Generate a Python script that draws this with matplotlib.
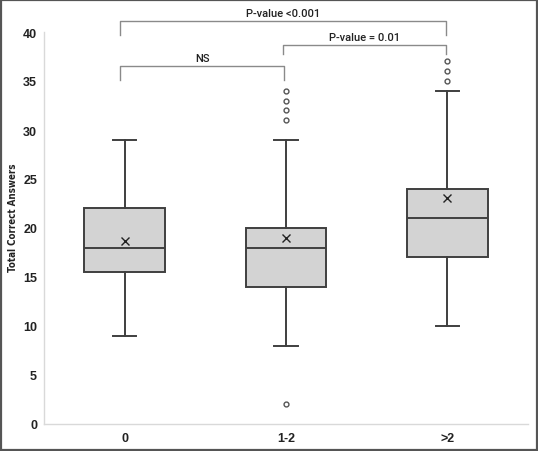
import matplotlib
matplotlib.use("Agg")
import matplotlib.pyplot as plt
from matplotlib.patches import Rectangle

# ---- data ----
categories = ["0", "1-2", ">2"]
whislo = [9, 8, 10]
q1 = [15.5, 14, 17]
med = [18, 18, 21]
q3 = [22, 20, 24]
whishi = [29, 29, 34]
means = [18.7, 19.0, 23.1]
fliers = [[], [2, 31, 32, 33, 34], [35, 36, 37]]
yticks = [0, 5, 10, 15, 20, 25, 30, 35, 40]
ylabel = "Total Correct Answers"
comparisons = [(1, 3, 41.1, 39.7, "P-value <0.001"),
               (2, 3, 38.7, 37.8, "P-value = 0.01"),
               (1, 2, 36.5, 35.1, "NS")]

plt.rcParams['font.family'] = ['Liberation Sans', 'DejaVu Sans']

fig = plt.figure(figsize=(5.38, 4.52), dpi=100)
ax = fig.add_axes([44/538, 27/452, 484/538, 392/452])

stats = []
for i in range(len(categories)):
    stats.append(dict(label=categories[i], whislo=whislo[i], q1=q1[i], med=med[i],
                      q3=q3[i], whishi=whishi[i], mean=means[i], fliers=fliers[i]))

positions = list(range(1, len(categories) + 1))
edge = "#3f3f3f"
ax.bxp(stats, positions=positions, widths=0.5, capwidths=0.145, patch_artist=True,
       showmeans=True,
       boxprops=dict(facecolor="#d3d3d3", edgecolor=edge, linewidth=1.4),
       medianprops=dict(color=edge, linewidth=1.4),
       whiskerprops=dict(color=edge, linewidth=1.4),
       capprops=dict(color=edge, linewidth=1.4),
       meanprops=dict(marker="x", markeredgecolor="#222222", markersize=6, markeredgewidth=1.0),
       flierprops=dict(marker="o", markerfacecolor="white", markeredgecolor="#555555",
                       markersize=3.5, markeredgewidth=1.0))

ax.set_xlim(0.5, 3.5)
ax.set_ylim(0, 40)
ax.set_yticks(yticks)
ax.set_yticklabels([str(t) for t in yticks], fontsize=9, fontweight="bold", color="#222222")
ax.set_xticks(positions)
ax.set_xticklabels(categories, fontsize=9, fontweight="bold", color="#222222")
ax.tick_params(axis="y", length=0, pad=5)
ax.tick_params(axis="x", length=0, pad=6)
for s in ["top", "right"]:
    ax.spines[s].set_visible(False)
for s in ["left", "bottom"]:
    ax.spines[s].set_color("#d9d9d9")
    ax.spines[s].set_linewidth(1.0)
ax.set_ylabel(ylabel, fontsize=7, fontweight="bold", family=["DejaVu Sans"],
              fontstretch="condensed", color="#222222")
ax.yaxis.set_label_coords(-26/484, 0.528)

# significance brackets
for (a, b, ytop, yleg, txt) in comparisons:
    xa = a - 0.03 if a == 1 else a - 0.02
    xb = b - 0.01
    ax.plot([xa, xa, xb, xb], [yleg, ytop, ytop, yleg], color="#8a8a8a",
            linewidth=1.0, clip_on=False)
    ax.text((xa + xb) / 2, ytop + 0.3, txt, ha="center", va="bottom",
            fontsize=8, fontweight="medium", family=["Roboto", "DejaVu Sans"],
            color="#222222", clip_on=False)

fig.add_artist(Rectangle((0.0015, 0.002), 0.997, 0.996, transform=fig.transFigure,
                         fill=False, edgecolor="#555555", linewidth=1.6))

fig.savefig("out.png", dpi=100)
